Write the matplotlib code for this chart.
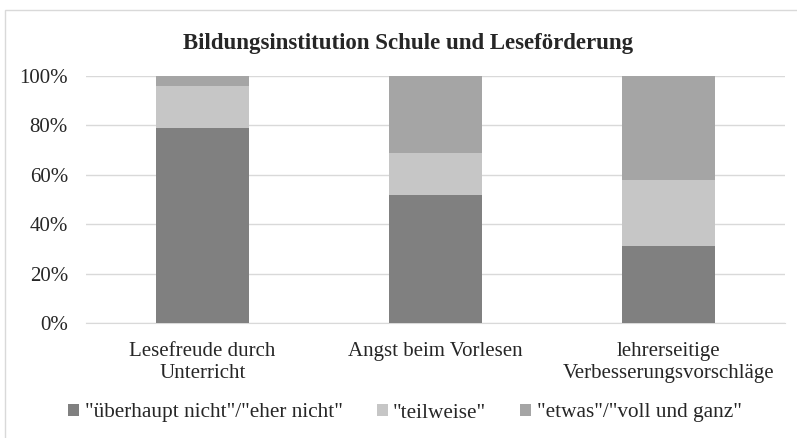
import matplotlib
matplotlib.use("Agg")
import matplotlib.pyplot as plt
import numpy as np
from matplotlib.patches import Rectangle

categories = ["Lesefreude durch\nUnterricht", "Angst beim Vorlesen",
              "lehrerseitige\nVerbesserungsvorschläge"]
series_names = ['"überhaupt nicht"/"eher nicht"', '"teilweise"', '"etwas"/"voll und ganz"']
nicht = [79, 52, 31]
teilweise = [17, 17, 27]
etwas = [4, 31, 42]
colors = ["#808080", "#c6c6c6", "#a5a5a5"]

plt.rcParams["font.family"] = ["Liberation Serif", "DejaVu Serif"]
text_color = "#262626"

fig = plt.figure(figsize=(7.97, 4.38), dpi=100)
fig.patches.append(Rectangle((5 / 797, -0.05), 1.0, 1 - 10 / 438 + 0.05,
                             transform=fig.transFigure, fill=False,
                             edgecolor="#d9d9d9", linewidth=1))
ax = fig.add_axes([86 / 797, 1 - 323 / 438, (785 - 86) / 797, (323 - 76) / 438])

x = np.arange(len(categories))
bottom = np.zeros(len(categories))
for vals, name, c in zip([nicht, teilweise, etwas], series_names, colors):
    ax.bar(x, vals, width=0.4, bottom=bottom, color=c, label=name, zorder=3)
    bottom += np.array(vals)

ax.set_xlim(-0.5, 2.5)
ax.set_ylim(0, 100)
ax.set_yticks(range(0, 101, 20))
ax.set_yticklabels([f"{v}%" for v in range(0, 101, 20)])
ax.set_xticks(x)
ax.set_xticklabels(categories, linespacing=1.2)
ax.yaxis.grid(True, color="#d9d9d9", linewidth=1, zorder=0)
for s in ["top", "right", "left"]:
    ax.spines[s].set_visible(False)
ax.spines["bottom"].set_color("#d9d9d9")
ax.tick_params(axis="both", length=0, labelsize=15, colors=text_color)
ax.tick_params(axis="y", pad=13)
ax.tick_params(axis="x", pad=14)

fig.text(0.512, 1 - 43 / 438, "Bildungsinstitution Schule und Leseförderung",
         ha="center", va="center", fontsize=16.5, fontweight="bold", color=text_color)

fig.legend(loc="center", bbox_to_anchor=(0.508, 1 - 413 / 438), ncol=3, frameon=False,
           fontsize=15.3, handlelength=0.53, handleheight=0.53, handletextpad=0.25,
           columnspacing=1.6, labelcolor=text_color)

fig.savefig("out.png", dpi=100)
